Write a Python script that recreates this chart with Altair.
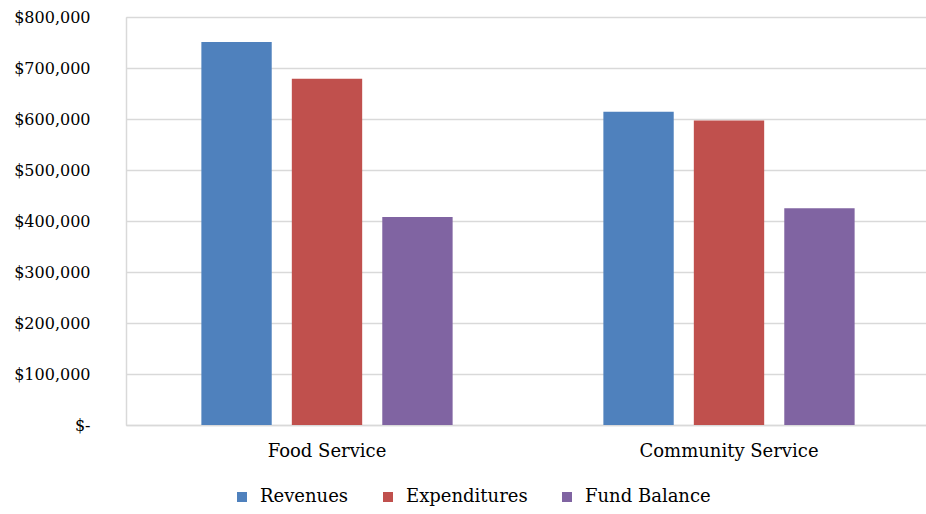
import altair as alt
import pandas as pd

# Fund data by program
programs = ["Food Service", "Community Service"]
measures = ["Revenues", "Expenditures", "Fund Balance"]
revenues = [751000, 614000]
expenditures = [679000, 597000]
fund_balance = [408000, 425000]
colors = ["#4F81BD", "#C0504D", "#8064A2"]

rows = []
for i, p in enumerate(programs):
    for m, vals in zip(measures, [revenues, expenditures, fund_balance]):
        rows.append({"Program": p, "Measure": m, "Amount": vals[i]})
df = pd.DataFrame(rows)

FONT = "DejaVu Serif"

chart = alt.Chart(df).mark_bar().encode(
    x=alt.X(
        "Program:N",
        sort=programs,
        title=None,
        scale=alt.Scale(paddingInner=0, paddingOuter=0, range=[0, 804]),
        axis=alt.Axis(
            labelAngle=0,
            labelFont=FONT,
            labelFontSize=18,
            labelColor="#000000",
            labelPadding=17,
            ticks=False,
            domainColor="#d9d9d9",
            domainWidth=1.5,
        ),
    ),
    xOffset=alt.XOffset(
        "Measure:N",
        sort=measures,
        scale=alt.Scale(paddingInner=0.2222, paddingOuter=0.8333),
    ),
    y=alt.Y(
        "Amount:Q",
        title=None,
        scale=alt.Scale(domain=[0, 800000], nice=False),
        axis=alt.Axis(
            values=list(range(0, 800001, 100000)),
            labelExpr="datum.value == 0 ? '$-' : '$' + format(datum.value, ',')",
            labelFont=FONT,
            labelFontSize=16,
            labelColor="#000000",
            labelPadding=36,
            ticks=False,
            domainColor="#d9d9d9",
            domainWidth=1.5,
            gridColor="#d9d9d9",
            gridWidth=1.5,
        ),
    ),
    color=alt.Color(
        "Measure:N",
        sort=measures,
        scale=alt.Scale(domain=measures, range=colors),
        legend=alt.Legend(
            title=None,
            orient="none",
            direction="horizontal",
            legendX=107,
            legendY=471,
            symbolType="square",
            symbolSize=100,
            symbolStrokeWidth=0,
            labelFont=FONT,
            labelFontSize=18,
            labelColor="#000000",
            labelOffset=9,
            columnPadding=30,
        ),
    ),
).properties(
    width=800,
    height=408,
    autosize=alt.AutoSizeParams(type="none"),
    padding={"left": 126, "top": 17, "right": 0, "bottom": 89},
).configure_view(
    stroke=None
).configure(
    background="#ffffff"
)

chart.save("out.html", embed_options={"renderer": "svg", "actions": False})
